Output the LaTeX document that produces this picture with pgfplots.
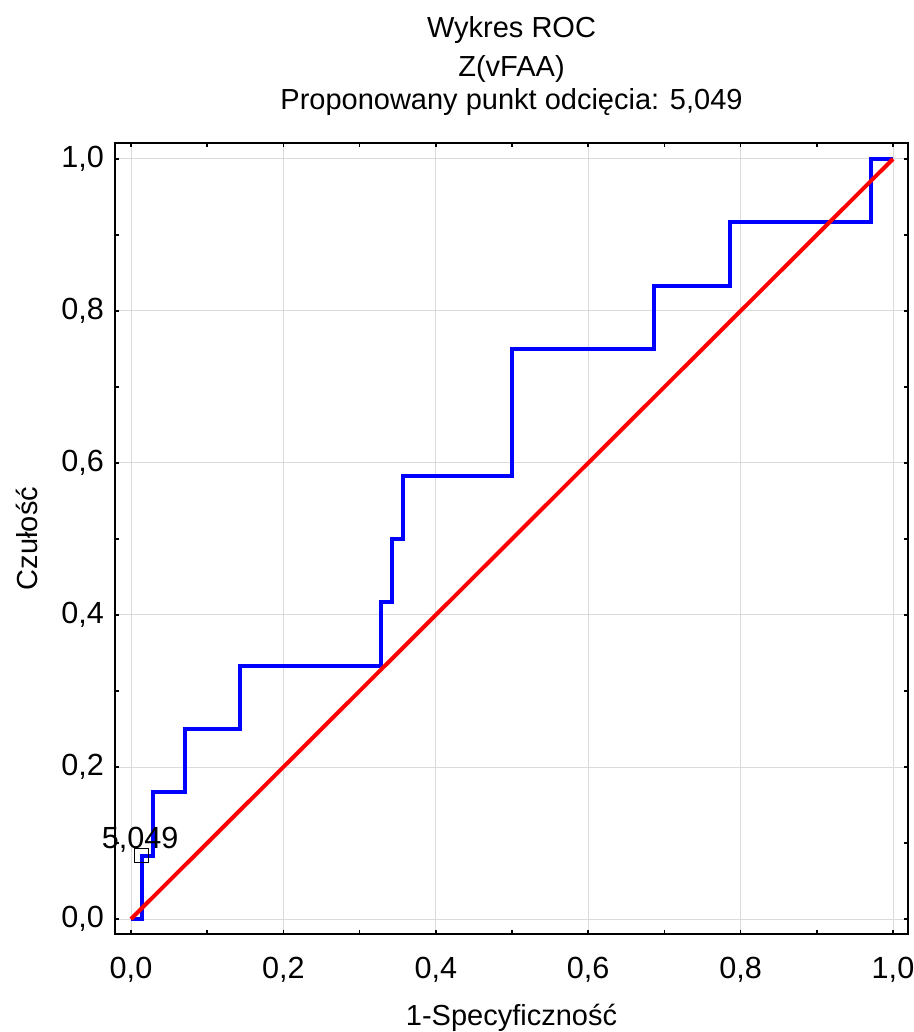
\documentclass[border=0pt]{standalone}
\usepackage{fontspec}
\setmainfont{Liberation Sans}
\usepackage{pgfplots}
\pgfplotsset{compat=1.18}
\begin{document}
\fontsize{14.5pt}{17pt}\selectfont
\begin{tikzpicture}
\useasboundingbox (-57.5pt,-49pt) rectangle (399.5pt,467pt);
\begin{axis}[
  at={(0,0)}, anchor=south west,
  width=396.5pt, height=395.5pt, scale only axis,
  xmin=-0.021, xmax=1.0197, ymin=-0.0197, ymax=1.021,
  xtick={0,0.2,0.4,0.6,0.8,1.0},
  ytick={0,0.2,0.4,0.6,0.8,1.0},
  minor xtick={0.1,0.3,0.5,0.7,0.9},
  minor ytick={0.1,0.3,0.5,0.7,0.9},
  tick align=inside,
  major tick length=2.2pt, minor tick length=2.2pt,
  every tick/.style={black, line width=0.8pt},
  grid=major,
  major grid style={draw=black!14, line width=0.5pt},
  axis line style={line width=1pt},
  /pgf/number format/.cd, use comma, fixed, fixed zerofill, precision=1, assume math mode=true, /pgfplots/.cd,
  tick label style={font=\fontsize{15.3pt}{17pt}\selectfont},
  xticklabel style={yshift=-6.5pt},
  yticklabel style={xshift=-0.5pt},
  clip=false,
]
\addplot[draw=blue, line width=2pt, line join=miter] coordinates {
 (0,0) (0.0143,0) (0.0143,0.0833) (0.0286,0.0833) (0.0286,0.1667)
 (0.0714,0.1667) (0.0714,0.25) (0.1429,0.25) (0.1429,0.3333)
 (0.3286,0.3333) (0.3286,0.4167) (0.3429,0.4167) (0.3429,0.5)
 (0.3571,0.5) (0.3571,0.5833) (0.5,0.5833) (0.5,0.75)
 (0.6857,0.75) (0.6857,0.8333) (0.7857,0.8333) (0.7857,0.9167)
 (0.9714,0.9167) (0.9714,1) (1,1)
};
\addplot[draw=red, line width=2pt] coordinates {(0,0) (1,1)};
\addplot[only marks, mark=square, mark size=3.5pt, mark options={draw=black, line width=0.5pt}] coordinates {(0.0143,0.0833)};
\node[anchor=base, yshift=3.5pt, font=\fontsize{15.3pt}{17pt}\selectfont] at (axis cs:0.012,0.0833) {5,049};
\end{axis}
\node[anchor=base] at ([yshift=52.5pt]current axis.north) {Wykres ROC};
\node[anchor=base] at ([yshift=33pt]current axis.north) {Z(vFAA)};
\node[anchor=base] at ([yshift=16.5pt]current axis.north) {Proponowany punkt odcięcia: 5,049};
\node[anchor=base] at ([yshift=-45.5pt]current axis.south) {1-Specyficzność};
\node[rotate=90, anchor=base] at ([xshift=-38.5pt]current axis.west) {Czułość};
\end{tikzpicture}
\end{document}
